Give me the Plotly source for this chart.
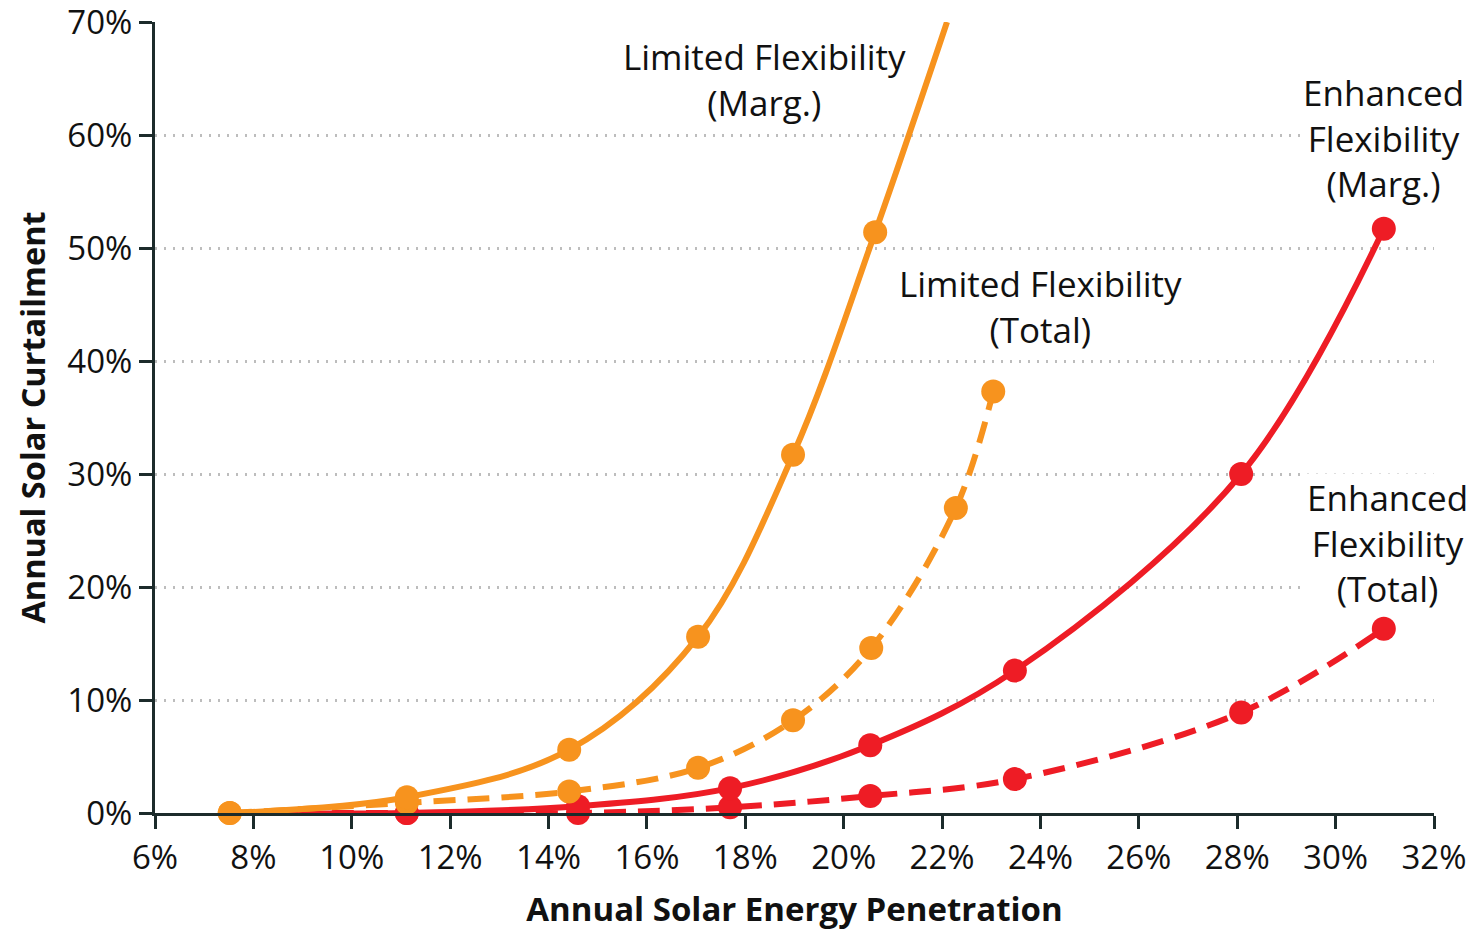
import plotly.graph_objects as go

# ---- data (percent) ----
lim_marg_x = [7.52, 11.12, 14.42, 17.04, 18.97, 20.64]
lim_marg_y = [0.0, 1.4, 5.6, 15.6, 31.7, 51.4]
lim_marg_ext_x = [22.1]
lim_marg_ext_y = [70.0]

lim_tot_x = [7.52, 11.12, 14.42, 17.04, 18.97, 20.56, 22.28, 23.04]
lim_tot_y = [0.0, 0.9, 1.9, 4.0, 8.2, 14.6, 27.0, 37.3]

enh_marg_x = [7.52, 11.12, 14.6, 17.69, 20.54, 23.48, 28.08, 30.98]
enh_marg_y = [0.0, 0.0, 0.6, 2.2, 6.0, 12.6, 30.0, 51.7]

enh_tot_x = [7.52, 11.12, 14.6, 17.69, 20.54, 23.48, 28.08, 30.98]
enh_tot_y = [0.0, 0.0, 0.0, 0.5, 1.5, 3.0, 8.9, 16.3]

x_ticks = list(range(6, 33, 2))
y_ticks = list(range(0, 71, 10))

labels = [
    ("Limited Flexibility<br>(Marg.)", 18.40, 64.9),
    ("Limited Flexibility<br>(Total)", 24.01, 44.8),
    ("Enhanced<br>Flexibility<br>(Marg.)", 30.98, 59.7),
    ("Enhanced<br>Flexibility<br>(Total)", 31.05, 23.9),
]

ORANGE = "#F7931E"
RED = "#EE1C25"
FONT = "Open Sans"
TXT = "#111111"
AX = "#1c2b2b"

fig = go.Figure()

def add_series(x, y, color, dash, ext_x=None, ext_y=None):
    lx = x + (ext_x or [])
    ly = y + (ext_y or [])
    fig.add_trace(go.Scatter(x=lx, y=ly, mode="lines",
                             line=dict(color=color, width=6, dash=dash, shape="spline", smoothing=1.0),
                             showlegend=False, hoverinfo="skip"))

add_series(enh_tot_x, enh_tot_y, RED, "22px,12px")
add_series(enh_marg_x, enh_marg_y, RED, "solid")
add_series(lim_tot_x, lim_tot_y, ORANGE, "22px,12px")
add_series(lim_marg_x, lim_marg_y, ORANGE, "solid", lim_marg_ext_x, lim_marg_ext_y)

for x, y, c in [(enh_tot_x[1:], enh_tot_y[1:], RED), (enh_marg_x[1:], enh_marg_y[1:], RED),
                (lim_tot_x, lim_tot_y, ORANGE), (lim_marg_x, lim_marg_y, ORANGE)]:
    fig.add_trace(go.Scatter(x=x, y=y, mode="markers",
                             marker=dict(color=c, size=24, line=dict(width=0)),
                             showlegend=False, cliponaxis=False))

for text, x, y in labels:
    fig.add_annotation(x=x, y=y, text=text, showarrow=False, align="center",
                       font=dict(family=FONT, size=35, color=TXT),
                       bgcolor="white", borderpad=0)

fig.update_layout(
    width=1475, height=931,
    margin=dict(l=155, r=41, t=22, b=118),
    paper_bgcolor="white", plot_bgcolor="white",
    font=dict(family=FONT, color=TXT),
)
fig.update_xaxes(
    range=[6, 32], tickvals=x_ticks, ticktext=[f"{v}%" for v in x_ticks],
    showgrid=False, zeroline=False, automargin=False, ticklabeloverflow="allow",
    showline=True, linecolor=AX, linewidth=3,
    ticks="outside", ticklen=13, tickwidth=3, tickcolor=AX,
    tickfont=dict(family=FONT, size=33, color=TXT),
    title=dict(text="<b>Annual Solar Energy Penetration</b>", font=dict(family=FONT, size=33, color=TXT), standoff=24),
)
fig.update_yaxes(
    range=[0, 70], tickvals=y_ticks, ticktext=[f"{v}%" for v in y_ticks],
    showgrid=True, gridcolor="#bdbdbd", griddash="2px,7px", gridwidth=2.5,
    zeroline=False, automargin=False, ticklabeloverflow="allow",
    showline=True, linecolor=AX, linewidth=3,
    ticks="outside", ticklen=13, tickwidth=3, tickcolor=AX,
    tickfont=dict(family=FONT, size=33, color=TXT),
    title=dict(text="<b>Annual Solar Curtailment</b>", font=dict(family=FONT, size=32.5, color=TXT), standoff=12),
)

fig.write_html("out.html", config={"displayModeBar": False},
               post_script="document.body.style.margin='0px';document.body.style.overflow='hidden';")
